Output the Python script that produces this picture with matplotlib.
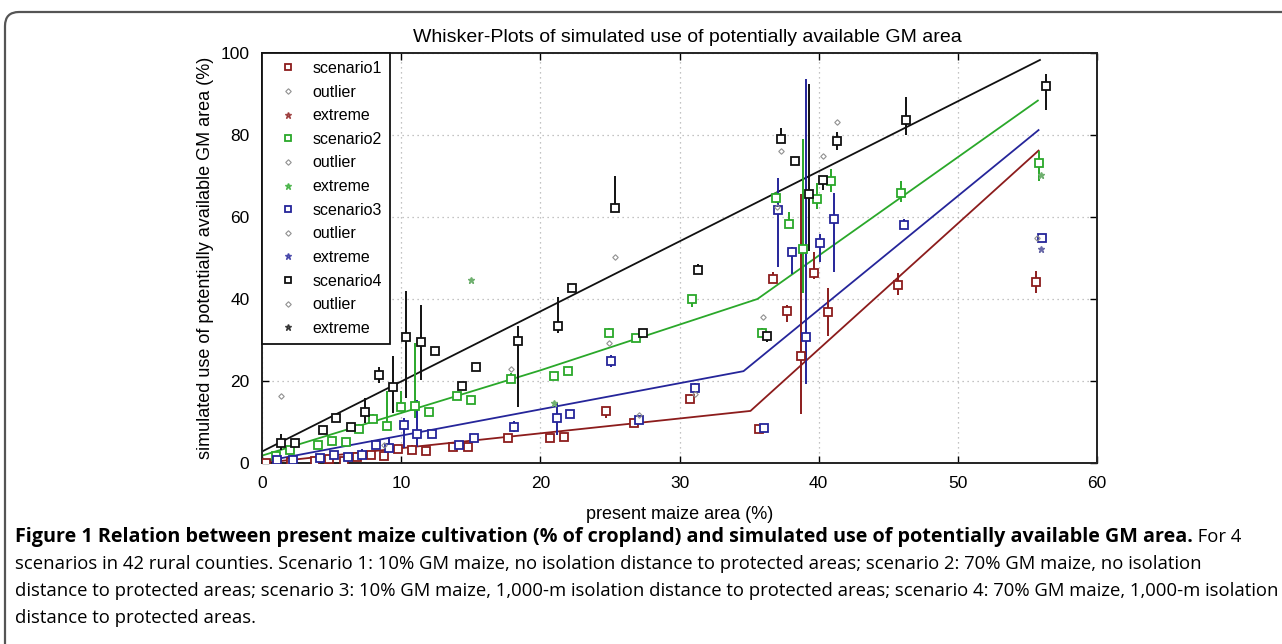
import matplotlib
matplotlib.use("Agg")
import matplotlib.pyplot as plt
from matplotlib.lines import Line2D
from matplotlib.patches import FancyBboxPatch

# ---------------- data ----------------
title = "Whisker-Plots of simulated use of potentially available GM area"
xlabel = "present maize area (%)"
ylabel = "simulated use of potentially available GM area (%)"
xticks = [0, 10, 20, 30, 40, 50, 60]
yticks = [0, 20, 40, 60, 80, 100]

# scenario 1 (red)
s1_x   = [0.3, 1.1, 2.1, 3.8, 4.8, 5.9, 6.8, 7.8, 8.8, 9.8, 10.75, 11.8, 13.7, 14.8, 17.7, 20.7, 21.7, 24.7, 26.7, 30.75, 35.7, 36.7, 37.7, 38.7, 39.7, 40.7, 45.7, 55.65]
s1_med = [0.0, 0.0, 0.3, 0.5, 0.9, 0.6, 1.5, 1.9, 1.8, 3.3, 3.2, 3.0, 4.0, 4.0, 6.0, 6.0, 6.3, 12.7, 9.8, 15.5, 8.3, 45.0, 37.1, 26.2, 46.4, 36.8, 43.4, 44.2]
s1_lo  = [0.0, 0.0, 0.3, 0.5, 0.9, 0.6, 1.5, 1.9, 1.8, 3.3, 3.2, 3.0, 4.0, 4.0, 6.0, 6.0, 6.3, 10.9, 9.8, 15.5, 8.3, 44.0, 34.3, 12.0, 45.0, 31.0, 40.9, 41.4]
s1_hi  = [0.0, 0.0, 0.3, 0.5, 0.9, 0.6, 1.5, 1.9, 1.8, 3.8, 4.5, 3.0, 4.0, 4.0, 6.0, 6.0, 6.3, 13.5, 9.8, 15.5, 8.3, 46.5, 38.5, 65.6, 51.5, 42.8, 46.3, 46.9]

# scenario 2 (green)
s2_x   = [1.0, 2.0, 4.0, 5.0, 6.0, 7.0, 8.0, 9.0, 9.96, 11.0, 12.0, 14.0, 15.0, 17.9, 20.95, 22.0, 24.9, 26.9, 30.9, 35.9, 36.9, 37.9, 38.9, 39.9, 40.9, 45.9, 55.85]
s2_med = [1.8, 3.2, 4.4, 5.4, 5.1, 8.2, 10.7, 9.0, 13.6, 13.9, 12.4, 16.3, 15.4, 20.5, 21.2, 22.5, 31.8, 30.4, 39.9, 31.8, 64.7, 58.4, 52.3, 64.5, 68.8, 65.9, 73.2]
s2_lo  = [1.8, 3.2, 4.4, 5.4, 5.1, 8.2, 10.7, 9.0, 13.6, 11.0, 12.4, 16.3, 15.4, 20.5, 21.2, 22.5, 31.8, 30.4, 38.0, 31.8, 63.5, 58.4, 41.4, 61.9, 66.0, 63.7, 68.8]
s2_hi  = [1.8, 3.2, 4.4, 5.4, 5.1, 9.5, 12.0, 17.6, 17.6, 29.2, 12.4, 16.3, 15.4, 22.0, 21.2, 22.5, 33.0, 30.4, 41.0, 33.0, 66.0, 61.3, 79.0, 68.2, 71.8, 68.9, 76.1]

# scenario 3 (blue)
s3_x   = [1.08, 2.2, 4.2, 5.15, 6.2, 7.2, 8.2, 9.15, 10.2, 11.15, 12.2, 14.15, 15.2, 18.1, 21.2, 22.1, 25.1, 27.1, 31.1, 36.1, 37.1, 38.1, 39.1, 40.1, 41.1, 46.1, 56.05]
s3_med = [0.7, 0.7, 1.3, 1.95, 1.5, 2.0, 4.4, 3.7, 9.3, 7.0, 7.0, 4.4, 6.2, 8.7, 11.0, 11.9, 25.0, 10.5, 18.4, 8.6, 61.6, 51.4, 30.7, 53.6, 59.4, 58.0, 55.0]
s3_lo  = [0.7, 0.7, 1.3, 1.95, 1.5, 2.0, 4.4, 3.7, 3.6, 4.0, 7.0, 4.4, 6.2, 7.6, 6.8, 11.9, 23.5, 10.5, 17.7, 8.6, 47.9, 46.0, 19.3, 49.1, 46.7, 58.0, 55.0]
s3_hi  = [0.7, 0.7, 1.3, 1.95, 1.5, 3.5, 5.5, 6.4, 10.9, 15.4, 7.0, 4.4, 6.2, 10.3, 14.6, 13.0, 26.3, 11.0, 19.5, 8.6, 69.4, 52.8, 93.6, 55.9, 65.9, 59.5, 55.0]

# scenario 4 (black)
s4_x   = [1.4, 2.4, 4.4, 5.3, 6.4, 7.4, 8.4, 9.4, 10.35, 11.4, 12.4, 14.35, 15.4, 18.4, 21.3, 22.3, 25.4, 27.35, 31.35, 36.3, 37.3, 38.3, 39.3, 40.3, 41.3, 46.3, 56.3]
s4_med = [5.0, 4.8, 8.0, 11.0, 8.8, 12.4, 21.5, 18.5, 30.8, 29.6, 27.2, 18.9, 23.3, 29.8, 33.3, 42.6, 62.3, 31.6, 47.1, 31.0, 79.0, 73.7, 65.5, 69.0, 78.5, 83.7, 92.0]
s4_lo  = [3.2, 4.8, 8.0, 11.0, 8.8, 9.7, 19.5, 12.2, 15.9, 20.2, 27.2, 18.9, 22.5, 13.7, 31.8, 42.0, 62.0, 31.0, 46.0, 29.5, 79.0, 73.0, 51.7, 66.5, 76.3, 80.0, 86.1]
s4_hi  = [7.0, 4.8, 8.0, 11.0, 8.8, 15.9, 23.5, 26.0, 42.0, 38.5, 28.0, 19.5, 24.5, 33.5, 40.6, 43.7, 70.1, 32.5, 48.5, 32.0, 81.6, 74.5, 92.4, 69.5, 80.8, 89.3, 95.0]

# outliers (all scenarios)
out_x = [8.8, 17.9, 24.9, 36.0, 37.0, 27.1, 31.1, 55.7, 1.4, 25.4, 37.3, 40.3, 41.3]
out_y = [4.4, 22.9, 29.2, 35.6, 62.5, 11.7, 16.8, 55.0, 16.4, 50.3, 76.2, 74.9, 83.2]

# extremes
ext2_x = [15.0, 21.0, 56.0]
ext2_y = [44.6, 14.6, 70.2]
ext3_x = [56.0]
ext3_y = [52.1]

# trend lines
line1_x = [0, 35.1, 55.8]
line1_y = [0.0, 12.7, 76.2]
line2_x = [0, 20, 35.6, 55.75]
line2_y = [1.8, 22.6, 40.0, 88.4]
line3_x = [0, 34.6, 55.8]
line3_y = [0.3, 22.4, 81.2]
line4_x = [0, 55.9]
line4_y = [2.8, 98.3]

labels = ["scenario1", "outlier", "extreme", "scenario2", "outlier", "extreme",
          "scenario3", "outlier", "extreme", "scenario4", "outlier", "extreme"]

caption_bold = ("Figure 1 Relation between present maize cultivation (% of cropland) "
                "and simulated use of potentially available GM area.")
caption_l1_rest = " For 4"
caption_lines = [
    "scenarios in 42 rural counties. Scenario 1: 10% GM maize, no isolation distance to protected areas; scenario 2: 70% GM maize, no isolation",
    "distance to protected areas; scenario 3: 10% GM maize, 1,000-m isolation distance to protected areas; scenario 4: 70% GM maize, 1,000-m isolation",
    "distance to protected areas.",
]

# ---------------- style ----------------
RED = "#8c1c1c"
GREEN = "#2aa82a"
BLUE = "#25259a"
BLACK = "#111111"
GRAY = "#909090"
CHART_FONT = ["Liberation Sans", "DejaVu Sans"]
CAP_FONT = ["Open Sans", "DejaVu Sans"]

W, H = 1282, 644
fig = plt.figure(figsize=(W / 100, H / 100), dpi=100)
fig.patch.set_facecolor("white")

ax = fig.add_axes([262 / W, 1 - 463 / H, (1097 - 262) / W, (463 - 53) / H])

ax.set_xlim(0, 60)
ax.set_ylim(0, 100)
ax.set_xticks(xticks)
ax.set_yticks(yticks)
ax.grid(True, linestyle=(0, (1, 3)), color="#b0b0b0", linewidth=0.9)
ax.set_axisbelow(True)

# trend lines
ax.plot(line1_x, line1_y, color=RED, lw=1.3, zorder=2)
ax.plot(line2_x, line2_y, color=GREEN, lw=1.3, zorder=2)
ax.plot(line3_x, line3_y, color=BLUE, lw=1.3, zorder=2)
ax.plot(line4_x, line4_y, color=BLACK, lw=1.3, zorder=2)

series = [
    (s1_x, s1_med, s1_lo, s1_hi, RED),
    (s2_x, s2_med, s2_lo, s2_hi, GREEN),
    (s3_x, s3_med, s3_lo, s3_hi, BLUE),
    (s4_x, s4_med, s4_lo, s4_hi, BLACK),
]
for xs, med, lo, hi, col in series:
    ax.vlines(xs, lo, hi, color=col, lw=1.4, zorder=3)
    ax.plot(xs, med, linestyle="none", marker="s", ms=6, mfc="white",
            mec=col, mew=1.3, zorder=4)

ax.plot(out_x, out_y, linestyle="none", marker="D", ms=2.8, mfc="none",
        mec=GRAY, mew=0.8, zorder=4)
ax.plot(ext2_x, ext2_y, linestyle="none", marker="*", ms=5, color="#6fb06f", zorder=4)
ax.plot(ext3_x, ext3_y, linestyle="none", marker="*", ms=5, color="#6a6aa8", zorder=4)

for sp in ax.spines.values():
    sp.set_linewidth(1.4)
    sp.set_color("#222222")
ax.tick_params(direction="in", length=5, width=1.0, top=True, right=True,
               labelsize=12.5, pad=9)
for lab in ax.get_xticklabels() + ax.get_yticklabels():
    lab.set_family(CHART_FONT)

ax.set_title(title, fontsize=14.0, family=CHART_FONT, pad=8, x=0.51)
ax.set_xlabel(xlabel, fontsize=13, family=CHART_FONT, labelpad=11)
ax.set_ylabel(ylabel, fontsize=13, family=CHART_FONT, labelpad=5)

# legend
handles = []
for col in [RED, GREEN, BLUE, BLACK]:
    handles.append(Line2D([], [], linestyle="none", marker="s", ms=5, mfc="white", mec=col, mew=1.3))
    handles.append(Line2D([], [], linestyle="none", marker="D", ms=2.8, mfc="none", mec=GRAY, mew=0.8))
    handles.append(Line2D([], [], linestyle="none", marker="*", ms=4.5, color=col, alpha=0.7))
leg = ax.legend(handles, labels, loc="upper left", borderaxespad=0, fancybox=False,
                framealpha=1, edgecolor="#111111", prop={"family": CHART_FONT, "size": 11.5},
                handlelength=2.3, handletextpad=0.35, labelspacing=0.54,
                borderpad=0.5, markerscale=1.0)
leg.get_frame().set_linewidth(1.3)

# figure border (rounded)
border = FancyBboxPatch((5, -40), 1320, 672, boxstyle="round,pad=0,rounding_size=14",
                        transform=None, fill=False, edgecolor="#555555", linewidth=1.6)
fig.patches.append(border)

# caption
fig.canvas.draw()
renderer = fig.canvas.get_renderer()
x0 = 15 / W
ys = [537, 564, 591, 618]
t = fig.text(x0, 1 - ys[0] / H, caption_bold, fontsize=14.2, weight="bold",
             family=CAP_FONT, va="center", ha="left")
bb = t.get_window_extent(renderer)
fig.text(bb.x1 / W, 1 - ys[0] / H, caption_l1_rest, fontsize=13.3,
         family=CAP_FONT, va="center", ha="left")
for yy, txt in zip(ys[1:], caption_lines):
    fig.text(x0, 1 - yy / H, txt, fontsize=13.3, family=CAP_FONT, va="center", ha="left")

fig.savefig("out.png", dpi=100, facecolor="white")
